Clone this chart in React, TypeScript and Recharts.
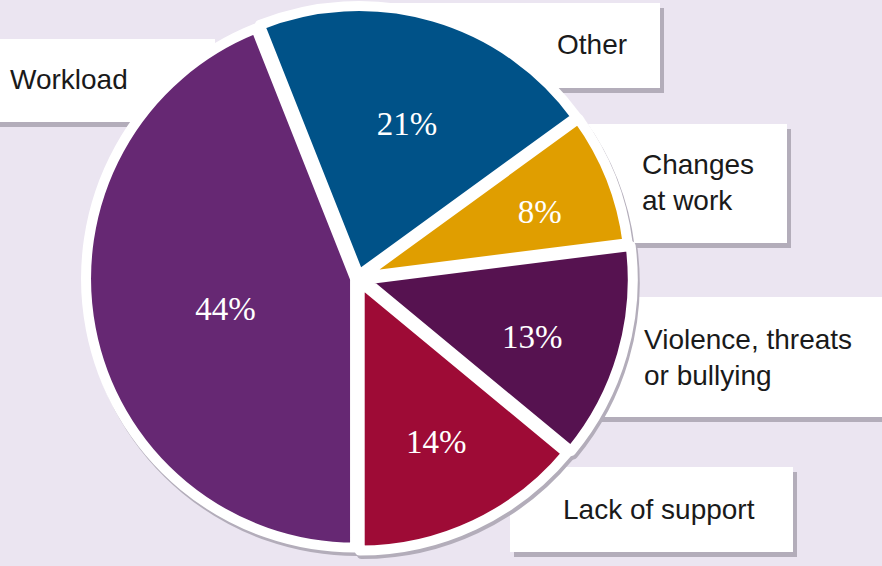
import { PieChart, Pie, Sector } from 'recharts';

const NAMES = ['Workload', 'Other', 'Changes at work', 'Violence, threats or bullying', 'Lack of support'];
const SHARES = [44, 21, 8, 13, 14];
const LABEL_LINES = [['Workload'], ['Other'], ['Changes', 'at work'], ['Violence, threats', 'or bullying'], ['Lack of support']];

const COLORS = ['#662873', '#005288', '#e09e00', '#561250', '#9e0b36'];
const BG = '#ebe5f1';
const SHADOW = '#b3adba';

// style only: slice pull-out (px), label radius (fraction of outer radius) + nudge, callout boxes
const EXPLODE = [3, 3, 3, 6, 4];
const LABEL_R = [0.505, 0.6, 0.715, 0.69, 0.675];
const LABEL_NUDGE = [[1, 6], [4, 1], [3, 5], [-4, 7], [1, 0]];
const BOXES = [
  { left: -10, top: 39, width: 225, height: 83, tx: 10, ty: 62 },
  { left: 390, top: 3, width: 270, height: 85, tx: 557, ty: 27 },
  { left: 560, top: 124, width: 227, height: 119, tx: 642, ty: 147 },
  { left: 560, top: 297, width: 340, height: 120, tx: 644, ty: 322 },
  { left: 510, top: 467, width: 283, height: 85, tx: 563, ty: 492 },
];

const data = NAMES.map((name, i) => ({ name, value: SHARES[i], fill: COLORS[i] }));

const RAD = Math.PI / 180;

const slice = (shadow: boolean) => (props: any) => {
  const { cx, cy, midAngle, innerRadius, outerRadius, startAngle, endAngle } = props;
  const i = NAMES.indexOf(props.name ?? props.payload?.name);
  const d = EXPLODE[i] ?? 3;
  const ox = d * Math.cos(-midAngle * RAD) + (shadow ? 2 : 0);
  const oy = d * Math.sin(-midAngle * RAD) + (shadow ? 3.5 : 0);
  return (
    <Sector
      cx={cx + ox}
      cy={cy + oy}
      innerRadius={innerRadius}
      outerRadius={outerRadius}
      startAngle={startAngle}
      endAngle={endAngle}
      fill={shadow ? SHADOW : COLORS[i]}
      stroke={shadow ? SHADOW : '#ffffff'}
      strokeWidth={10}
      strokeLinejoin="round"
    />
  );
};

const renderPct = (props: any) => {
  const { cx, cy, midAngle, outerRadius, value, name } = props;
  const i = NAMES.indexOf(name);
  const r = outerRadius * (LABEL_R[i] ?? 0.6);
  const [nx, ny] = LABEL_NUDGE[i] ?? [0, 0];
  const x = cx + r * Math.cos(-midAngle * RAD) + nx;
  const y = cy + r * Math.sin(-midAngle * RAD) + ny;
  return (
    <text
      x={x}
      y={y}
      fill="#ffffff"
      textAnchor="middle"
      dominantBaseline="central"
      style={{ fontFamily: '"Liberation Serif", "DejaVu Serif", serif', fontSize: 33 }}
    >
      {value}%
    </text>
  );
};

export default function App() {
  return (
    <div style={{ position: 'absolute', left: 0, top: 0, width: 882, height: 566, background: BG, overflow: 'hidden' }}>
      {BOXES.map((b, i) => (
        <div
          key={NAMES[i]}
          style={{
            position: 'absolute', left: b.left, top: b.top, width: b.width, height: b.height,
            background: '#fff', boxShadow: `4px 5px 0 ${SHADOW}`,
          }}
        />
      ))}
      {BOXES.map((b, i) => (
        <div
          key={'t' + NAMES[i]}
          style={{
            position: 'absolute', left: b.tx, top: b.ty, whiteSpace: 'nowrap',
            fontFamily: '"Liberation Sans", Arial, sans-serif', fontSize: 28, lineHeight: '35.5px', color: '#1a1a1a',
          }}
        >
          {LABEL_LINES[i].map((l) => <div key={l}>{l}</div>)}
        </div>
      ))}
      <div style={{ position: 'absolute', left: 0, top: 0 }}>
        <PieChart width={882} height={566} margin={{ top: 0, right: 0, bottom: 0, left: 0 }}>
          <Pie
            data={data}
            dataKey="value"
            nameKey="name"
            cx={358}
            cy={278}
            outerRadius={269}
            startAngle={270}
            endAngle={-90}
            stroke="none"
            shape={slice(true)}
            inactiveShape={slice(true)}
            activeShape={slice(true)}
            isAnimationActive={false}
          />
          <Pie
            data={data}
            dataKey="value"
            nameKey="name"
            cx={358}
            cy={278}
            outerRadius={269}
            startAngle={270}
            endAngle={-90}
            stroke="#fff"
            strokeWidth={10}
            shape={slice(false)}
            inactiveShape={slice(false)}
            activeShape={slice(false)}
            label={renderPct}
            labelLine={false}
            isAnimationActive={false}
          />
        </PieChart>
      </div>
    </div>
  );
}
